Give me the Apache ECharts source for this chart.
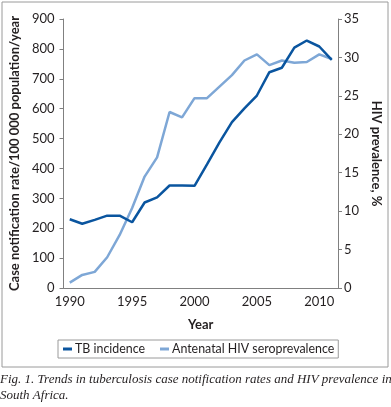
<!DOCTYPE html>
<html>
<head>
<meta charset="utf-8">
<script src="https://cdn.jsdelivr.net/npm/echarts@6/dist/echarts.min.js"></script>
<style>
  html, body { margin: 0; padding: 0; background: #fff; }
  #chart { width: 391px; height: 407px; }
</style>
</head>
<body>
<div id="chart"></div>
<script>
// years on the x axis
var years = ['1990', '1991', '1992', '1993', '1994', '1995', '1996', '1997', '1998', '1999', '2000',
             '2001', '2002', '2003', '2004', '2005', '2006', '2007', '2008', '2009', '2010', '2011'];

// TB case notification rate / 100 000 population / year
var tbIncidence = [230, 215, 228, 242, 242, 220, 286, 303, 343, 343, 342,
                   414, 487, 555, 601, 644, 722, 737, 804, 828, 808, 763];

// antenatal HIV seroprevalence, %
var hivPrevalence = [0.7, 1.7, 2.1, 4.0, 6.9, 10.4, 14.5, 17.0, 22.9, 22.2, 24.7,
                     24.7, 26.2, 27.7, 29.6, 30.4, 29.0, 29.6, 29.3, 29.4, 30.4, 29.8];

var leftTicks = [0, 900, 100];
var rightTicks = [0, 35, 5];

var axisGrey = '#808080';
var textColor = '#231f20';
var font = 'Lato';

var chart = echarts.init(document.getElementById('chart'));

chart.setOption({
    animation: false,
    backgroundColor: '#fff',
    textStyle: { fontFamily: font, color: textColor },
    graphic: [{
        type: 'rect',
        shape: { x: 2, y: 2, width: 386, height: 365 },
        style: { fill: 'none', stroke: '#9a9a9a', lineWidth: 1 }
    }],
    title: {
        text: 'Fig. 1. Trends in tuberculosis case notification rates and HIV prevalence in\nSouth Africa.',
        left: 0,
        top: 372,
        padding: 0,
        textStyle: {
            fontFamily: 'Liberation Serif',
            fontStyle: 'italic',
            fontWeight: 'normal',
            fontSize: 13,
            lineHeight: 16,
            color: textColor
        }
    },
    legend: {
        orient: 'horizontal',
        left: 58,
        top: 340,
        padding: [3, 4, 3, 5],
        itemGap: 15,
        itemWidth: 9,
        itemHeight: 3,
        icon: 'rect',
        borderColor: '#9a9a9a',
        borderWidth: 1,
        textStyle: { fontFamily: font, fontSize: 12.4, color: textColor, padding: [0, 0, 0, -2] },
        data: ['TB incidence', 'Antenatal HIV seroprevalence']
    },
    grid: {
        left: 58,
        right: 45,
        top: 19,
        bottom: 119,
        containLabel: false
    },
    xAxis: {
        type: 'category',
        data: years,
        boundaryGap: true,
        name: 'Year',
        nameLocation: 'middle',
        nameGap: 30,
        nameTextStyle: { fontFamily: font, fontSize: 13, fontWeight: 'bold', color: textColor },
        axisLine: { lineStyle: { color: axisGrey, width: 1 } },
        axisTick: { interval: 0, length: 4, lineStyle: { color: axisGrey } },
        axisLabel: { interval: 4, fontSize: 13, color: textColor, margin: 7 }
    },
    yAxis: [{
        type: 'value',
        min: leftTicks[0],
        max: leftTicks[1],
        interval: leftTicks[2],
        name: 'Case notification rate/100 000 population/year',
        nameLocation: 'middle',
        nameGap: 41,
        nameTextStyle: { fontFamily: font, fontSize: 13, fontWeight: 'bold', color: textColor },
        axisLine: { show: true, lineStyle: { color: axisGrey } },
        axisTick: { show: true, length: 4, lineStyle: { color: axisGrey } },
        axisLabel: { fontSize: 13, color: textColor, margin: 9 },
        splitLine: { show: false }
    }, {
        type: 'value',
        position: 'right',
        min: rightTicks[0],
        max: rightTicks[1],
        interval: rightTicks[2],
        name: 'HIV prevalence, %',
        nameLocation: 'middle',
        nameGap: 32,
        nameRotate: -90,
        nameTextStyle: { fontFamily: font, fontSize: 13, fontWeight: 'bold', color: textColor },
        axisLine: { show: true, lineStyle: { color: axisGrey } },
        axisTick: { show: true, length: 4, lineStyle: { color: axisGrey } },
        axisLabel: { fontSize: 13, color: textColor, margin: 6 },
        splitLine: { show: false }
    }],
    series: [{
        name: 'TB incidence',
        type: 'line',
        yAxisIndex: 0,
        data: tbIncidence,
        showSymbol: false,
        symbol: 'none',
        z: 3,
        itemStyle: { color: '#0a559f' },
        lineStyle: { color: '#0a559f', width: 2.5 }
    }, {
        name: 'Antenatal HIV seroprevalence',
        type: 'line',
        yAxisIndex: 1,
        data: hivPrevalence,
        showSymbol: false,
        symbol: 'none',
        z: 2,
        itemStyle: { color: '#7ea7d6' },
        lineStyle: { color: '#7ea7d6', width: 2.5 }
    }]
});
</script>
</body>
</html>
